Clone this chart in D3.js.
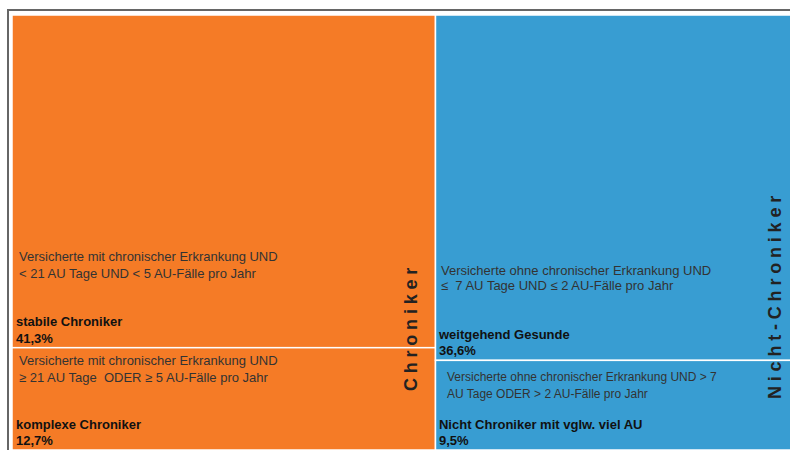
<!DOCTYPE html>
<html>
<head>
<meta charset="utf-8">
<script src="https://cdn.jsdelivr.net/npm/d3@7"></script>
<style>
  body { margin: 0; background: #fff; }
  svg { display: block; }
  .desc { font-family: "Liberation Sans", Arial, sans-serif; font-size: 13px; fill: #333; }
  .name { font-family: "Liberation Sans", Arial, sans-serif; font-size: 13px; font-weight: bold; fill: #111; }
  .group-label { font-family: "Liberation Sans", Arial, sans-serif; font-size: 18px; font-weight: bold; fill: #222; letter-spacing: 4.8px; }
</style>
</head>
<body>
<div id="chart"></div>
<script>
// groups (columns) and their segments
var groups = ["Chroniker", "Nicht-Chroniker"];
var segGroup = [0, 0, 1, 1];
var segNames = ["stabile Chroniker", "komplexe Chroniker", "weitgehend Gesunde", "Nicht Chroniker mit vglw. viel AU"];
var segValues = [41.3, 12.7, 36.6, 9.5];
var segDesc = [
  ["Versicherte mit chronischer Erkrankung UND", "< 21 AU Tage UND < 5 AU-Fälle pro Jahr"],
  ["Versicherte mit chronischer Erkrankung UND", "≥ 21 AU Tage  ODER ≥ 5 AU-Fälle pro Jahr"],
  ["Versicherte ohne chronischer Erkrankung UND", "≤  7 AU Tage UND ≤ 2 AU-Fälle pro Jahr"],
  ["Versicherte ohne chronischer Erkrankung UND > 7", "AU Tage ODER > 2 AU-Fälle pro Jahr"]
];
var colors = ["#F57B26", "#389DD2"];

var width = 790, height = 450;
var margin = { top: 15, left: 12, right: -7, bottom: 0 };

// text tweaks per segment (first description baseline above cell bottom, line gap, x indents)
var descLift = [87, 85, 85.5, 69];
var descGap = [17, 17, 15.5, 17];
var descIndent = [7, 7, 5.5, 11.5];
var nameIndent = [4, 4, 3.5, 3.5];
var descSize = [13, 13, 13, 12];

var svg = d3.select("#chart").append("svg")
  .attr("width", width)
  .attr("height", height);

// frame
svg.append("path")
  .attr("d", "M8," + height + "V10H" + width)
  .attr("fill", "none")
  .attr("stroke", "#666")
  .attr("stroke-width", 2);

var totals = groups.map(function(g, i) {
  return d3.sum(segValues.filter(function(v, j) { return segGroup[j] === i; }));
});
var starts = d3.cumsum([0].concat(totals));

var x = d3.scaleLinear()
  .domain([0, d3.sum(totals)])
  .range([margin.left, width - margin.right]);

var cells = [];
groups.forEach(function(g, gi) {
  var y = d3.scaleLinear()
    .domain([0, totals[gi]])
    .range([margin.top, height - margin.bottom]);
  var acc = 0;
  segValues.forEach(function(v, j) {
    if (segGroup[j] !== gi) return;
    cells.push({
      i: j, g: gi,
      x0: x(starts[gi]), x1: x(starts[gi] + totals[gi]),
      y0: y(acc), y1: y(acc + v)
    });
    acc += v;
  });
});

var cell = svg.selectAll(".cell")
  .data(cells)
  .enter().append("g")
  .attr("class", "cell");

cell.append("rect")
  .attr("x", function(d) { return d.x0; })
  .attr("y", function(d) { return d.y0; })
  .attr("width", function(d) { return d.x1 - d.x0; })
  .attr("height", function(d) { return d.y1 - d.y0; })
  .attr("fill", function(d) { return colors[d.g]; })
  .attr("stroke", "#fff")
  .attr("stroke-width", 1.5);

// descriptions
cell.each(function(d) {
  var t = d3.select(this).append("text")
    .attr("class", "desc")
    .style("font-size", descSize[d.i] + "px");
  segDesc[d.i].forEach(function(line, k) {
    t.append("tspan")
      .attr("x", d.x0 + descIndent[d.i])
      .attr("y", d.y1 - descLift[d.i] + k * descGap[d.i])
      .style("white-space", "pre")
      .text(line);
  });
});

cell.append("text")
  .attr("class", "name")
  .attr("x", function(d) { return d.x0 + nameIndent[d.i]; })
  .attr("y", function(d) { return d.y1 - 21.5; })
  .text(function(d) { return segNames[d.i]; });

cell.append("text")
  .attr("class", "name")
  .attr("x", function(d) { return d.x0 + nameIndent[d.i]; })
  .attr("y", function(d) { return d.y1 - 5; })
  .text(function(d) { return String(segValues[d.i]).replace(".", ",") + "%"; });

// rotated group labels
var labelY = [327, 295];
svg.selectAll(".group-label")
  .data(groups)
  .enter().append("text")
  .attr("class", "group-label")
  .attr("text-anchor", "middle")
  .attr("transform", function(d, i) {
    var cx = x(starts[i] + totals[i]) - (i === 0 ? 18 : 16);
    return "translate(" + cx + "," + labelY[i] + ") rotate(-90)";
  })
  .text(function(d) { return d; });
</script>
</body>
</html>
